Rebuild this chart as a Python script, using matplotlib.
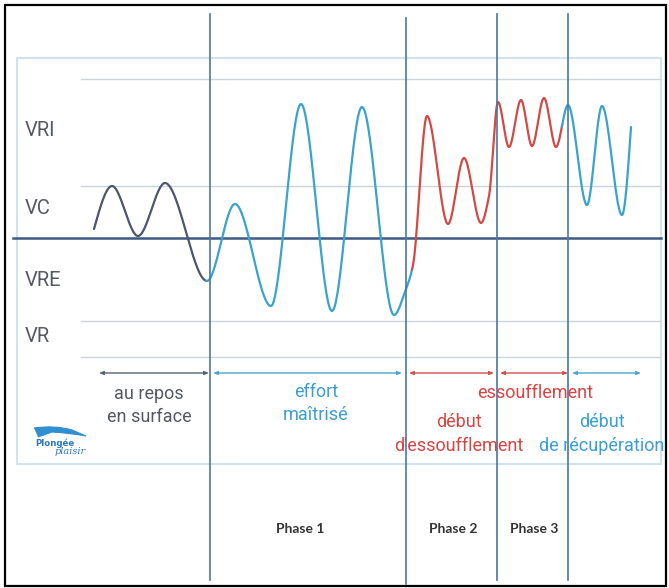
import matplotlib
matplotlib.use('Agg')
import matplotlib.pyplot as plt
from matplotlib.patches import Rectangle, PathPatch
from matplotlib.path import Path
import numpy as np

# points read on the breathing curve (x = time, y = lung volume, picture units)
wave_t = [94, 112, 138, 165, 207, 235, 271, 301, 332, 362, 394, 405, 413, 427,
          448, 464, 481, 489, 498, 509, 521, 532, 544, 556, 568, 587, 602, 622, 631]
wave_v = [229, 186, 236, 183, 281, 204, 306, 104, 311, 107, 315, 292, 265, 116,
          224, 158, 223, 196, 102, 147, 100, 146, 98, 147, 105, 205, 106, 215, 127]

# where the curve changes colour
split_t = [207, 412, 562]
wave_colors = ['#4e566e', '#3aa3cc', '#d24a45', '#3aa3cc']

# volume levels
level_names = ['VRI', 'VC', 'VRE', 'VR']
level_pos = [131, 209, 281, 336]
grid_levels = [79, 186, 321, 357]
rest_level = 238

# phase boundaries
phase_lines = [210, 406, 497, 568]
phase_names = ['Phase 1', 'Phase 2', 'Phase 3']
phase_pos = [300, 453, 534]

# arrows under the curve
arrow_start = [99, 213, 409, 500, 572]
arrow_end = [209, 402, 494, 568, 641]
arrow_colors = ['#5a6275', '#4aa8cc', '#d0504c', '#d0504c', '#4aa8cc']

sans = ['Roboto', 'Liberation Sans', 'DejaVu Sans']


def pchip(t, v, n=40):
    # monotone cubic through the read points
    t = np.asarray(t, float)
    v = np.asarray(v, float)
    h = np.diff(t)
    delta = np.diff(v) / h
    d = np.zeros_like(v)
    for k in range(1, len(t) - 1):
        if delta[k - 1] * delta[k] > 0:
            w1 = 2 * h[k] + h[k - 1]
            w2 = h[k] + 2 * h[k - 1]
            d[k] = (w1 + w2) / (w1 / delta[k - 1] + w2 / delta[k])
    d[0] = delta[0] * 1.5
    d[-1] = delta[-1] * 1.5
    xs, ys = [], []
    for k in range(len(t) - 1):
        u = np.linspace(0, 1, n)[:-1] if k < len(t) - 2 else np.linspace(0, 1, n)
        h00 = 2 * u**3 - 3 * u**2 + 1
        h10 = u**3 - 2 * u**2 + u
        h01 = -2 * u**3 + 3 * u**2
        h11 = u**3 - u**2
        xs.append(t[k] + h[k] * u)
        ys.append(h00 * v[k] + h10 * h[k] * d[k] + h01 * v[k + 1] + h11 * h[k] * d[k + 1])
    return np.concatenate(xs), np.concatenate(ys)


fig = plt.figure(figsize=(6.69, 5.88), dpi=100)
ax = fig.add_axes([0, 0, 1, 1])
ax.set_xlim(0, 669)
ax.set_ylim(588, 0)
ax.axis('off')

# frames
ax.add_patch(Rectangle((5, 5), 661, 581, fill=False, ec='black', lw=1.6))
ax.add_patch(Rectangle((17, 58), 644, 406, fill=False, ec='#d3e3ee', lw=1.5))

for y in grid_levels:
    ax.plot([81, 661], [y, y], color='#c9d4dc', lw=1.0)
ax.plot([13, 661], [rest_level, rest_level], color='#3d5a80', lw=1.8)

for name, y in zip(level_names, level_pos):
    ax.text(25, y, name, family=sans, fontsize=14.5, color='#555a60',
            ha='left', va='center')

# curve, coloured piece by piece
x, y = pchip(wave_t, wave_v)
bounds = [x[0]] + split_t + [x[-1]]
for k in range(len(wave_colors)):
    i0 = max(np.searchsorted(x, bounds[k]) - 1, 0)
    i1 = min(np.searchsorted(x, bounds[k + 1]) + 1, len(x))
    ax.plot(x[i0:i1], y[i0:i1], color=wave_colors[k], lw=1.6,
            solid_capstyle='round')

# phase lines
for i, px in enumerate(phase_lines):
    top = 18 if i == 1 else 14
    bot = 584 if i == 1 else 580
    ax.plot([px, px], [top, bot], color='#4a76a6', lw=1.2)

# arrows
for a, b, c in zip(arrow_start, arrow_end, arrow_colors):
    ax.annotate('', xy=(b, 373), xytext=(a, 373),
                arrowprops=dict(arrowstyle='<|-|>,head_length=0.25,head_width=0.1',
                                color=c, lw=1.0, shrinkA=0, shrinkB=0))

# descriptions
grey, blue, red = '#555a60', '#3a9fd0', '#d64541'
labels = [
    ('au repos', 149, 394, grey), ('en surface', 149, 417, grey),
    ('effort', 316, 392, blue), ('maîtrisé', 316, 415, blue),
    ('essoufflement', 535, 393, red),
    ('début', 459, 422, red), ("d'essoufflement", 459, 446, red),
    ('début', 602, 422, blue), ('de récupération', 602, 446, blue),
]
for txt, tx, ty, c in labels:
    ax.text(tx, ty, txt, family=sans, fontsize=13, color=c,
            ha='center', va='center')

for name, px in zip(phase_names, phase_pos):
    ax.text(px, 529, name, family=['Lato', 'DejaVu Sans'], fontweight='bold',
            fontsize=10, color='#333333', ha='center', va='center')

# logo
swoosh = Path([(34, 428), (55, 425), (72, 430), (86, 436),
               (70, 433), (52, 432), (38, 437)],
              [Path.MOVETO, Path.CURVE3, Path.CURVE3, Path.LINETO,
               Path.CURVE3, Path.CURVE3, Path.LINETO])
ax.add_patch(PathPatch(swoosh, fc='#2f8fd0', ec='#2f8fd0', lw=0.8))
ax.text(55, 443, 'Plongée', family=['DejaVu Sans'], fontweight='bold',
        fontsize=6.2, color='#2a78c0', ha='center', va='center')
ax.text(70, 451, 'plaisir', family=['DejaVu Serif'], style='italic',
        fontsize=7, color='#2a78c0', ha='center', va='center')

fig.savefig('out.png', dpi=100)
